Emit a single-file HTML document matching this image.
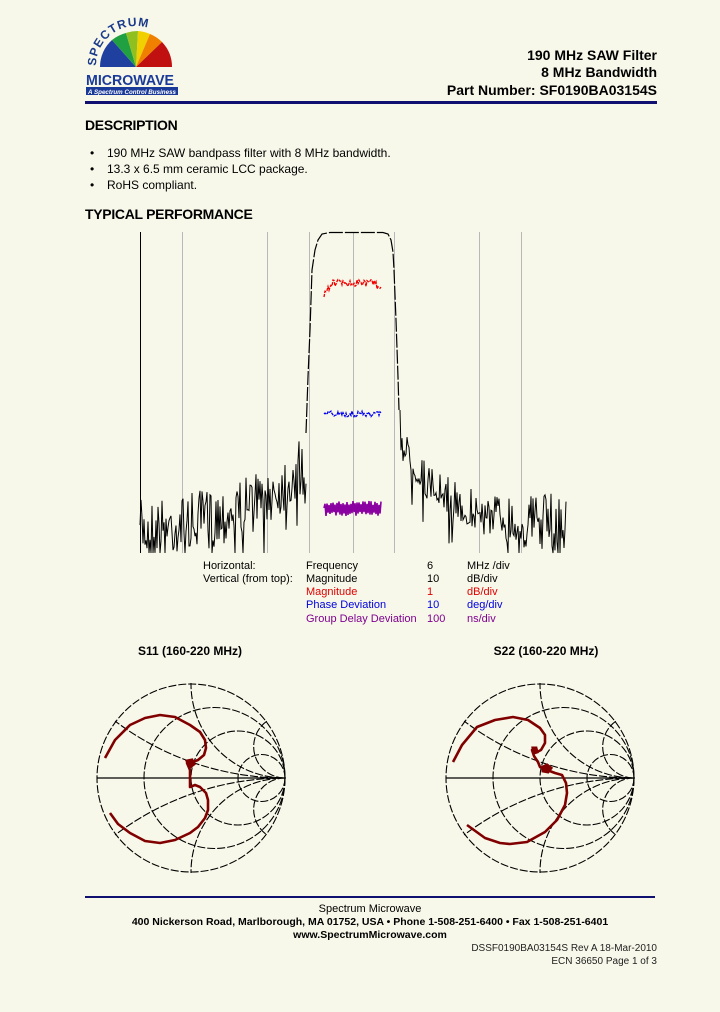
<!DOCTYPE html>
<html><head><meta charset="utf-8"><style>
html,body{margin:0;padding:0;background:#f8f8ea;width:720px;height:1012px;overflow:hidden;}
svg{display:block;font-family:"Liberation Sans",Arial,sans-serif;}
</style></head><body>
<svg id="s" width="720" height="1012" viewBox="0 0 720 1012" xmlns="http://www.w3.org/2000/svg">
<rect width="720" height="1012" fill="#f8f8ea"/>
<defs>
<path id="arcT" d="M96,66 A40,40 0 0 1 176,66"/>
<clipPath id="half"><rect x="80" y="20" width="120" height="50"/></clipPath>
</defs>
<g clip-path="url(#half)">
<path d="M100,67 A36,36 0 0 1 112,40 L136,67Z" fill="#2040a0"/>
<path d="M112,40 A36,36 0 0 1 126,33 L136,67Z" fill="#20a040"/>
<path d="M126,33 A36,36 0 0 1 138,31 L136,67Z" fill="#90c020"/>
<path d="M138,31 A36,36 0 0 1 150,34 L136,67Z" fill="#f0d000"/>
<path d="M150,34 A36,36 0 0 1 162,42 L136,67Z" fill="#f08000"/>
<path d="M162,42 A36,36 0 0 1 172,67 L136,67Z" fill="#c01010"/>
</g>
<text font-size="12" font-weight="bold" fill="#1a3a8a" letter-spacing="1"><textPath href="#arcT">SPECTRUM</textPath></text>
<text x="86" y="85" font-size="14.5" font-weight="bold" fill="#1a3a9a" textLength="88" lengthAdjust="spacingAndGlyphs">MICROWAVE</text>
<rect x="86" y="87" width="92" height="8" fill="#1a3a9a"/>
<text x="88" y="94" font-size="6.5" font-style="italic" font-weight="bold" fill="#fff" textLength="88" lengthAdjust="spacingAndGlyphs">A Spectrum Control Business</text>
<g font-size="14" font-weight="bold" text-anchor="end" fill="#000">
<text x="657" y="60">190 MHz SAW Filter</text>
<text x="657" y="77">8 MHz Bandwidth</text>
<text x="657" y="95">Part Number: SF0190BA03154S</text>
</g>
<rect x="85" y="101" width="572" height="3" fill="#101070"/>
<text x="85" y="130" font-size="14" font-weight="bold" letter-spacing="-0.3">DESCRIPTION</text>
<g font-size="12">
<text x="90" y="157">•</text><text x="107" y="157">190 MHz SAW bandpass filter with 8 MHz bandwidth.</text>
<text x="90" y="173">•</text><text x="107" y="173">13.3 x 6.5 mm ceramic LCC package.</text>
<text x="90" y="189">•</text><text x="107" y="189">RoHS compliant.</text>
</g>
<text x="85" y="219" font-size="14" font-weight="bold" letter-spacing="-0.3">TYPICAL PERFORMANCE</text>
<g stroke="#b8b8b8" stroke-width="1">
<line x1="182.5" y1="232" x2="182.5" y2="553"/><line x1="267.5" y1="232" x2="267.5" y2="553"/>
<line x1="309.5" y1="232" x2="309.5" y2="553"/><line x1="353.5" y1="232" x2="353.5" y2="553"/>
<line x1="394.5" y1="232" x2="394.5" y2="553"/><line x1="479.5" y1="232" x2="479.5" y2="553"/>
<line x1="521.5" y1="232" x2="521.5" y2="553"/>
</g>
<line x1="140.5" y1="232" x2="140.5" y2="553" stroke="#000"/>
<path d="M306,433 L308,377 L310,330 L312,270 L315,250 L318,240 L322,234 L330,232.5 L383,232.5 L388,234 L391,240 L393,252 L394,270 L396,320 L398,377 L399,410" fill="none" stroke="#000" stroke-width="1.2" stroke-dasharray="14,2"/>
<g id="traces"></g>
<g font-size="11">
<text x="203" y="569">Horizontal:</text><text x="306" y="569">Frequency</text><text x="427" y="569">6</text><text x="467" y="569">MHz /div</text>
<text x="203" y="582">Vertical (from top):</text><text x="306" y="582">Magnitude</text><text x="427" y="582">10</text><text x="467" y="582">dB/div</text>
<g fill="#e00000"><text x="306" y="595">Magnitude</text><text x="427" y="595">1</text><text x="467" y="595">dB/div</text></g>
<g fill="#0000e0"><text x="306" y="608">Phase Deviation</text><text x="427" y="608">10</text><text x="467" y="608">deg/div</text></g>
<g fill="#800090"><text x="306" y="622">Group Delay Deviation</text><text x="427" y="622">100</text><text x="467" y="622">ns/div</text></g>
</g>
<text x="190" y="655" font-size="12" font-weight="bold" text-anchor="middle">S11 (160-220 MHz)</text>
<text x="546" y="655" font-size="12" font-weight="bold" text-anchor="middle">S22 (160-220 MHz)</text>
<g id="smiths"></g>
<rect x="85" y="896" width="570" height="2" fill="#101070"/>
<g font-size="11" text-anchor="middle">
<text x="370" y="912">Spectrum Microwave</text>
<text x="370" y="925" font-weight="bold" font-size="10.5">400 Nickerson Road, Marlborough, MA 01752, USA  •  Phone 1-508-251-6400  •  Fax 1-508-251-6401</text>
<text x="370" y="938" font-weight="bold" font-size="10.5">www.SpectrumMicrowave.com</text>
</g>
<g font-size="10" text-anchor="end" fill="#222">
<text x="657" y="951">DSSF0190BA03154S   Rev A     18-Mar-2010</text>
<text x="657" y="964">ECN 36650      Page 1 of 3</text>
</g>
</svg>
<script>
var NS="http://www.w3.org/2000/svg";
var seed=7;function r(){seed=(seed*16807)%2147483647;return seed/2147483647;}
function P(d,c,w,par,da,fill){var p=document.createElementNS(NS,"path");p.setAttribute("d",d);p.setAttribute("stroke",c);p.setAttribute("stroke-width",w);p.setAttribute("fill",fill||"none");if(da)p.setAttribute("stroke-dasharray",da);document.getElementById(par).appendChild(p);}
var d="M140,525";
for(var x=141;x<=306;x++){var t=(x-140)/166;var base=530-45*Math.pow(t,3)-20*t;var y=base+(r()-0.5)*60;if(r()<0.12)y+=30;if(y>553)y=553;if(y<420)y=420;d+=" L"+x+","+y.toFixed(1);}
d+=" M400,410";
for(var x=401;x<=566;x++){var t=(x-400)/166;var base=440+95*(1-Math.exp(-t*3.5))-10*t;var y=base+(r()-0.5)*55*(0.6+t*0.5);if(r()<0.1)y+=30;if(y>553)y=553;d+=" L"+x+","+y.toFixed(1);}
P(d,"#000",1,"traces");
var dr="M324,297",db="M324,414",dp="M324,508";
for(var x=325;x<=381;x++){var a=(x-324)/57;dr+=" L"+x+","+(283+(a<0.15?(0.15-a)*80:0)+(a>0.85?(a-0.85)*30:0)+(r()-0.5)*7).toFixed(1);
db+=" L"+x+","+(414+(r()-0.5)*6).toFixed(1);
dp+=" L"+x+","+(x%2?501+r()*4:512+r()*4).toFixed(1);}
P(dr,"#f00000",1.3,"traces","3,1");P(db,"#0000f0",1.3,"traces","3,1");P(dp,"#8a00a0",1.6,"traces");
function smith(cx,cy,R,tr){
 var g="smiths";
 function C(gx,gy,rad,da){var e=document.createElementNS(NS,"circle");e.setAttribute("cx",cx+gx*R);e.setAttribute("cy",cy-gy*R);e.setAttribute("r",rad*R);e.setAttribute("fill","none");e.setAttribute("stroke","#000");e.setAttribute("stroke-width","1.1");if(da)e.setAttribute("stroke-dasharray",da);e.setAttribute("clip-path","url(#cl"+cx+")");document.getElementById(g).appendChild(e);}
 var cp=document.createElementNS(NS,"clipPath");cp.setAttribute("id","cl"+cx);var cc=document.createElementNS(NS,"circle");cc.setAttribute("cx",cx);cc.setAttribute("cy",cy);cc.setAttribute("r",R+1);cp.appendChild(cc);document.getElementById(g).appendChild(cp);
 C(0,0,1,"8,2");
 [1/3,1,3].forEach(function(rr){C(rr/(rr+1),0,1/(rr+1),"8,2");});
 [1/3,1,3].forEach(function(xx){C(1,1/xx,1/xx,"8,2");C(1,-1/xx,1/xx,"8,2");});
 P("M"+(cx-R)+","+cy+" L"+(cx+R)+","+cy,"#000",1.2,g);
 var s="M"+tr[0][0]+","+tr[0][1];for(var i=1;i<tr.length;i++)s+=" L"+tr[i][0]+","+tr[i][1];
 var p=document.createElementNS(NS,"path");p.setAttribute("d",s);p.setAttribute("stroke","#800000");p.setAttribute("stroke-width","2.6");p.setAttribute("fill","none");p.setAttribute("stroke-linejoin","round");document.getElementById(g).appendChild(p);
}
smith(191,778,94,[[105,758],[115,740],[130,725],[145,718],[160,715],[175,717],[190,725],[200,732],[205,740],[206,748],[204,755],[198,760],[193,762],[187,763],[190,770],[190,787],[195,785],[200,787],[206,793],[208,800],[208,810],[205,818],[198,827],[190,833],[175,840],[160,843],[145,841],[130,833],[118,824],[110,813]]);
smith(540,778,94,[[453,762],[462,745],[477,727],[495,720],[513,717],[528,720],[540,728],[545,735],[545,743],[541,750],[537,752],[532,750],[534,756],[538,762],[540,767],[547,770],[555,773],[562,775],[566,783],[567,793],[565,805],[557,820],[545,832],[527,842],[510,844],[500,843],[485,838],[467,825]]);
P("M533,748 l3,0 l1,4 l-3,1z M543,767 l4,-2 l4,3 l-3,4 l-5,-1z","#800000",3,"smiths",null,"#800000");
P("M187,761 l5,-1 l2,4 l-4,3z","#800000",3,"smiths",null,"#800000");
</script>
</body></html>
